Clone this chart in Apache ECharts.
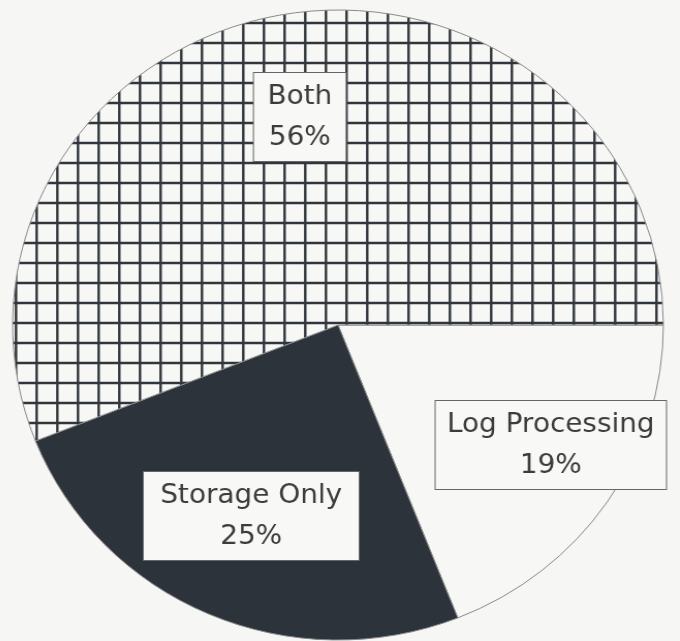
<!DOCTYPE html>
<html>
<head>
<meta charset="utf-8">
<script src="https://cdn.jsdelivr.net/npm/echarts@6/dist/echarts.min.js"></script>
<style>
  html, body { margin: 0; padding: 0; background: #f6f6f4; overflow: hidden; }
  /* 原图扫描后略有横向拉伸 */
  #chart { width: 680px; height: 641px; transform: scaleX(1.033); transform-origin: 338px 0; }
</style>
</head>
<body>
<div id="chart"></div>
<script>
// 数据
var names = ["Log Processing", "Storage Only", "Both"];
var shares = [19, 25, 56];

// 标签位置（中心点，拉伸前坐标）
var labelPos = [[544, 445], [254, 516], [301, 117]];
var labelPad = [[3, 11], [3, 16], [3, 13]];

// 网格填充图案
function gridPattern() {
  var c = document.createElement("canvas");
  c.width = 20;
  c.height = 20;
  var ctx = c.getContext("2d");
  ctx.fillStyle = "#f7f7f5";
  ctx.fillRect(0, 0, c.width, c.height);
  ctx.strokeStyle = "#30363c";
  ctx.lineWidth = 2.4;
  ctx.beginPath();
  ctx.moveTo(0, 3);
  ctx.lineTo(c.width, 3);
  ctx.moveTo(6.3, 0);
  ctx.lineTo(6.3, c.height);
  ctx.stroke();
  return c;
}

var fills = ["#f7f7f5", "#2d333b", { image: gridPattern(), repeat: "repeat" }];

var chart = echarts.init(document.getElementById("chart"));
chart.setOption({
  backgroundColor: "#f6f6f4",
  animation: false,
  series: [
    {
      type: "pie",
      center: [338, 325],
      radius: 315,
      startAngle: 0,
      clockwise: true,
      itemStyle: { borderColor: "#8a8a8a", borderWidth: 1 },
      emphasis: { disabled: true },
      label: {
        show: true,
        position: "inside",
        formatter: "{b}\n{d}%",
        fontFamily: "DejaVu Sans",
        fontSize: 27,
        lineHeight: 41,
        color: "#3c3c3c",
        backgroundColor: "#f8f8f6",
        borderColor: "#666",
        borderWidth: 1,
        align: "center"
      },
      labelLine: { show: false },
      labelLayout: function (p) {
        return {
          x: labelPos[p.dataIndex][0],
          y: labelPos[p.dataIndex][1],
          align: "center",
          verticalAlign: "middle"
        };
      },
      data: names.map(function (n, i) {
        return {
          name: n,
          value: shares[i],
          itemStyle: { color: fills[i] },
          label: { padding: labelPad[i] }
        };
      })
    }
  ]
});
</script>
</body>
</html>
